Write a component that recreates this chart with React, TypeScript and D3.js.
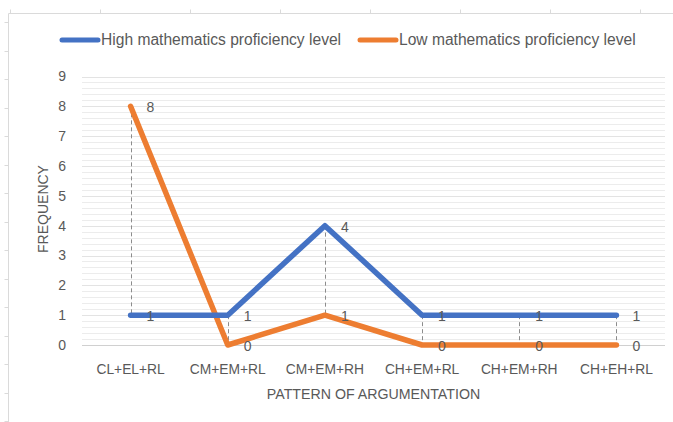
import { useEffect, useRef } from 'react'
import * as d3 from 'd3'

const categories = ['CL+EL+RL', 'CM+EM+RL', 'CM+EM+RH', 'CH+EM+RL', 'CH+EM+RH', 'CH+EH+RL']
const highValues = [1, 1, 4, 1, 1, 1]
const lowValues = [8, 0, 1, 0, 0, 0]
const seriesNames = ['High mathematics proficiency level', 'Low mathematics proficiency level']
const seriesColors = ['#4472C4', '#ED7D31']
const yTicks = [0, 1, 2, 3, 4, 5, 6, 7, 8, 9]

const App = () => {
    const ref = useRef<SVGSVGElement>(null)

    useEffect(() => {
        const width = 673
        const height = 422
        const left = 82
        const right = 665
        const top = 76.5
        const bottom = 345
        const font = '"Liberation Sans", Arial, sans-serif'
        const textColor = '#595959'

        const svg = d3.select(ref.current)
        svg.selectAll('*').remove()
        svg.attr('width', width).attr('height', height).style('font-family', font)

        svg.append('rect').attr('width', width).attr('height', height).attr('fill', '#fff')

        // Outer frame (ruler-like edges of the screenshot).
        const frame = svg.append('g').attr('stroke', '#dadada').attr('stroke-width', 1)
        frame.append('line').attr('x1', 8.5).attr('x2', width).attr('y1', 13.5).attr('y2', 13.5)
        frame.append('line').attr('x1', 8.5).attr('x2', 8.5).attr('y1', 13.5).attr('y2', height)
        frame
            .selectAll('line.tx')
            .data(d3.range(10, width, 90))
            .join('line')
            .attr('x1', (d) => d + 0.5)
            .attr('x2', (d) => d + 0.5)
            .attr('y1', 9.5)
            .attr('y2', 13.5)
        frame
            .selectAll('line.ty')
            .data(d3.range(22, height, 28.5))
            .join('line')
            .attr('x1', 4.5)
            .attr('x2', 8.5)
            .attr('y1', (d) => Math.round(d) + 0.5)
            .attr('y2', (d) => Math.round(d) + 0.5)

        const x = d3.scaleBand().domain(categories).range([left, right])
        const cx = (c: string) => (x(c) as number) + x.bandwidth() / 2
        const y = d3.scaleLinear().domain([0, 9]).range([bottom, top])

        // Minor gridlines.
        svg.append('g')
            .selectAll('line')
            .data(d3.range(0, 45).map((i) => i / 5).filter((v) => v % 1 !== 0))
            .join('line')
            .attr('x1', left)
            .attr('x2', right)
            .attr('y1', (d) => Math.round(y(d)) + 0.5)
            .attr('y2', (d) => Math.round(y(d)) + 0.5)
            .attr('stroke', '#ececec')

        // Major gridlines.
        svg.append('g')
            .selectAll('line')
            .data(yTicks)
            .join('line')
            .attr('x1', left)
            .attr('x2', right)
            .attr('y1', (d) => Math.round(y(d)) + 0.5)
            .attr('y2', (d) => Math.round(y(d)) + 0.5)
            .attr('stroke', (d) => (d === 0 ? '#d0d0d0' : '#e3e3e3'))

        // Y tick labels.
        svg.append('g')
            .selectAll('text')
            .data(yTicks)
            .join('text')
            .attr('x', 66)
            .attr('y', (d) => y(d))
            .attr('dy', '0.35em')
            .attr('text-anchor', 'end')
            .attr('fill', textColor)
            .attr('font-size', 14)
            .text((d) => d)

        // X tick labels.
        svg.append('g')
            .selectAll('text')
            .data(categories)
            .join('text')
            .attr('x', (d) => cx(d))
            .attr('y', 369)
            .attr('dy', '0.35em')
            .attr('text-anchor', 'middle')
            .attr('fill', textColor)
            .attr('font-size', 13.8)
            .text((d) => d)

        // Axis titles.
        svg.append('text')
            .attr('x', (left + right) / 2)
            .attr('y', 394)
            .attr('dy', '0.35em')
            .attr('text-anchor', 'middle')
            .attr('fill', textColor)
            .attr('font-size', 14.2)
            .text('PATTERN OF ARGUMENTATION')
        svg.append('text')
            .attr('transform', `translate(43,209) rotate(-90)`)
            .attr('dy', '0.35em')
            .attr('text-anchor', 'middle')
            .attr('fill', textColor)
            .attr('font-size', 14)
            .text('FREQUENCY')

        // High-low lines.
        svg.append('g')
            .selectAll('line')
            .data(categories)
            .join('line')
            .attr('x1', (d) => Math.round(cx(d)) + 0.5)
            .attr('x2', (d) => Math.round(cx(d)) + 0.5)
            .attr('y1', (_, i) => y(Math.max(highValues[i], lowValues[i])))
            .attr('y2', (_, i) => y(Math.min(highValues[i], lowValues[i])))
            .attr('stroke', '#8c8c8c')
            .attr('stroke-dasharray', '4,3')

        const series = [highValues, lowValues]
        const line = d3
            .line<number>()
            .x((_, i) => cx(categories[i]))
            .y((d) => y(d))

        // Lines (low under high, as in the picture the high series is on top).
        ;[1, 0].forEach((s) => {
            svg.append('path')
                .datum(series[s])
                .attr('d', line)
                .attr('fill', 'none')
                .attr('stroke', seriesColors[s])
                .attr('stroke-width', 5.5)
                .attr('stroke-linecap', 'round')
                .attr('stroke-linejoin', 'round')
        })

        // Data labels.
        series.forEach((vals) => {
            svg.append('g')
                .selectAll('text')
                .data(vals)
                .join('text')
                .attr('x', (_, i) => cx(categories[i]) + 16)
                .attr('y', (d) => y(d) + 1)
                .attr('dy', '0.35em')
                .attr('fill', textColor)
                .attr('font-size', 14)
                .text((d) => d)
        })

        // Legend.
        const legendItems = [
            { x: 60, name: seriesNames[0], color: seriesColors[0] },
            { x: 358, name: seriesNames[1], color: seriesColors[1] },
        ]
        const lg = svg.append('g').selectAll('g').data(legendItems).join('g')
        lg.append('line')
            .attr('x1', (d) => d.x + 2)
            .attr('x2', (d) => d.x + 38)
            .attr('y1', 40)
            .attr('y2', 40)
            .attr('stroke', (d) => d.color)
            .attr('stroke-width', 5)
            .attr('stroke-linecap', 'round')
        lg.append('text')
            .attr('x', (d) => d.x + 41)
            .attr('y', 40)
            .attr('dy', '0.35em')
            .attr('fill', textColor)
            .attr('font-size', 15.6)
            .text((d) => d.name)
    }, [])

    return (
        <svg
            ref={ref}
            style={{ position: 'absolute', left: 0, top: 0, display: 'block' }}
        />
    )
}

export default App
